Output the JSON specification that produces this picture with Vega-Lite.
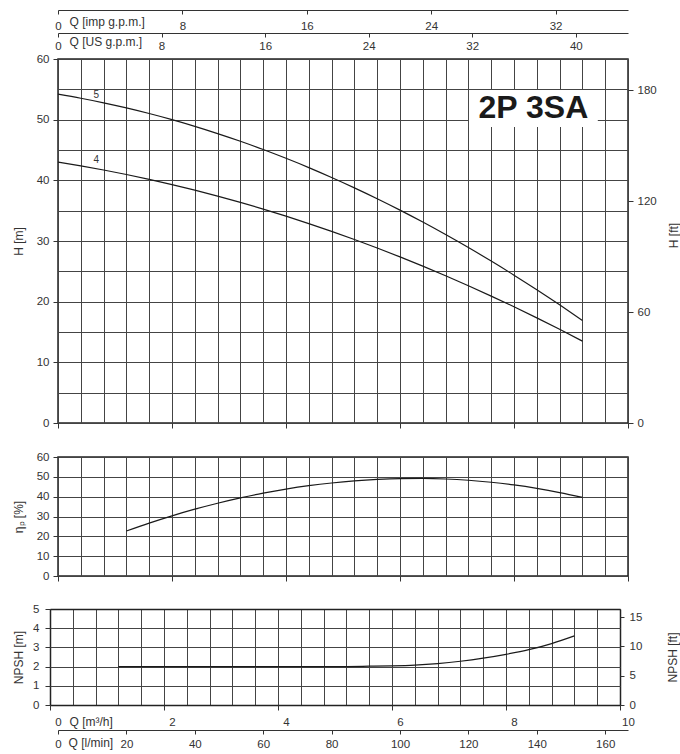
{
  "$schema": "https://vega.github.io/schema/vega-lite/v6.json",
  "background": "white",
  "padding": {"top": 8, "left": 11, "right": 0, "bottom": 0},
  "spacing": 20,
  "datasets": {
    "head": [
      {"curve": "5", "q": 0, "h": 54.20}, {"curve": "5", "q": 0.4, "h": 53.53}, {"curve": "5", "q": 0.8, "h": 52.78}, {"curve": "5", "q": 1.2, "h": 51.94},
      {"curve": "5", "q": 1.6, "h": 51.01}, {"curve": "5", "q": 2.0, "h": 50.00}, {"curve": "5", "q": 2.4, "h": 48.90}, {"curve": "5", "q": 2.8, "h": 47.71},
      {"curve": "5", "q": 3.2, "h": 46.44}, {"curve": "5", "q": 3.6, "h": 45.08}, {"curve": "5", "q": 4.0, "h": 43.63}, {"curve": "5", "q": 4.4, "h": 42.10},
      {"curve": "5", "q": 4.8, "h": 40.47}, {"curve": "5", "q": 5.2, "h": 38.76}, {"curve": "5", "q": 5.6, "h": 36.97}, {"curve": "5", "q": 6.0, "h": 35.09},
      {"curve": "5", "q": 6.4, "h": 33.12}, {"curve": "5", "q": 6.8, "h": 31.06}, {"curve": "5", "q": 7.2, "h": 28.92}, {"curve": "5", "q": 7.6, "h": 26.69},
      {"curve": "5", "q": 8.0, "h": 24.37}, {"curve": "5", "q": 8.4, "h": 21.97}, {"curve": "5", "q": 8.8, "h": 19.48}, {"curve": "5", "q": 9.2, "h": 16.91},
      {"curve": "4", "q": 0, "h": 43.00}, {"curve": "4", "q": 0.4, "h": 42.38}, {"curve": "4", "q": 0.8, "h": 41.70}, {"curve": "4", "q": 1.2, "h": 40.96},
      {"curve": "4", "q": 1.6, "h": 40.16}, {"curve": "4", "q": 2.0, "h": 39.30}, {"curve": "4", "q": 2.4, "h": 38.38}, {"curve": "4", "q": 2.8, "h": 37.40},
      {"curve": "4", "q": 3.2, "h": 36.36}, {"curve": "4", "q": 3.6, "h": 35.26}, {"curve": "4", "q": 4.0, "h": 34.09}, {"curve": "4", "q": 4.4, "h": 32.87},
      {"curve": "4", "q": 4.8, "h": 31.59}, {"curve": "4", "q": 5.2, "h": 30.25}, {"curve": "4", "q": 5.6, "h": 28.84}, {"curve": "4", "q": 6.0, "h": 27.38},
      {"curve": "4", "q": 6.4, "h": 25.86}, {"curve": "4", "q": 6.8, "h": 24.27}, {"curve": "4", "q": 7.2, "h": 22.63}, {"curve": "4", "q": 7.6, "h": 20.92},
      {"curve": "4", "q": 8.0, "h": 19.16}, {"curve": "4", "q": 8.4, "h": 17.33}, {"curve": "4", "q": 8.8, "h": 15.45}, {"curve": "4", "q": 9.2, "h": 13.50}
    ],
    "curveLabels": [
      {"label": "5", "q": 0.67, "h": 54.0},
      {"label": "4", "q": 0.67, "h": 43.4}
    ],
    "eff": [
      {"q": 1.2, "eta": 22.67}, {"q": 1.6, "eta": 26.67}, {"q": 2.0, "eta": 30.34}, {"q": 2.4, "eta": 33.69}, {"q": 2.8, "eta": 36.70},
      {"q": 3.2, "eta": 39.40}, {"q": 3.6, "eta": 41.76}, {"q": 4.0, "eta": 43.80}, {"q": 4.4, "eta": 45.52}, {"q": 4.8, "eta": 46.90},
      {"q": 5.2, "eta": 47.97}, {"q": 5.6, "eta": 48.70}, {"q": 6.0, "eta": 49.11}, {"q": 6.4, "eta": 49.19}, {"q": 6.8, "eta": 48.92},
      {"q": 7.2, "eta": 48.28}, {"q": 7.6, "eta": 47.27}, {"q": 8.0, "eta": 45.91}, {"q": 8.4, "eta": 44.17}, {"q": 8.8, "eta": 42.07},
      {"q": 9.2, "eta": 39.61}
    ],
    "npsh": [
      {"q": 1.2, "npsh": 2.0}, {"q": 2.0, "npsh": 2.0}, {"q": 3.0, "npsh": 2.0}, {"q": 4.0, "npsh": 2.0}, {"q": 5.0, "npsh": 2.0},
      {"q": 5.6, "npsh": 2.02}, {"q": 6.0, "npsh": 2.04}, {"q": 6.4, "npsh": 2.08}, {"q": 6.8, "npsh": 2.16}, {"q": 7.2, "npsh": 2.28},
      {"q": 7.6, "npsh": 2.44}, {"q": 8.0, "npsh": 2.64}, {"q": 8.4, "npsh": 2.88}, {"q": 8.8, "npsh": 3.2}, {"q": 9.2, "npsh": 3.6}
    ],
    "units": [
      {"m3h": 0, "imp": 0, "us": 0, "lmin": 0, "hm": 0, "hft": 0, "nm": 0, "nft": 0},
      {"m3h": 10, "imp": 36.66, "us": 44.03, "lmin": 166.67, "hm": 60, "hft": 196.85, "nm": 5, "nft": 16.40}
    ],
    "model": [{"name": "2P 3SA"}]
  },
  "vconcat": [
    {
      "width": 570,
      "height": 364,
      "layer": [
        {
          "data": {"name": "units"},
          "mark": {"type": "point", "opacity": 0},
          "encoding": {
            "x": {"field": "m3h", "type": "quantitative", "scale": {"domain": [0, 10], "nice": false, "zero": false},
              "axis": {"orient": "bottom", "values": [0,0.4,0.8,1.2,1.6,2,2.4,2.8,3.2,3.6,4,4.4,4.8,5.2,5.6,6,6.4,6.8,7.2,7.6,8,8.4,8.8,9.2,9.6,10], "grid": true, "ticks": false, "labels": false, "domain": false, "title": null}},
            "y": {"field": "hm", "type": "quantitative", "scale": {"domain": [0, 60], "nice": false},
              "axis": {"orient": "left", "values": [0,5,10,15,20,25,30,35,40,45,50,55,60], "grid": true, "ticks": false, "labels": false, "domain": false, "title": null}}
          }
        },
        {
          "data": {"name": "units"},
          "mark": {"type": "point", "opacity": 0},
          "encoding": {
            "x": {"field": "m3h", "type": "quantitative", "scale": {"domain": [0, 10], "nice": false, "zero": false},
              "axis": {"orient": "bottom", "values": [0,2,4,6,8,10], "grid": false, "ticks": true, "tickSize": 5, "labels": false, "domain": false, "title": null}},
            "y": {"field": "hm", "type": "quantitative", "scale": {"domain": [0, 60], "nice": false},
              "axis": {"orient": "left", "values": [0,10,20,30,40,50,60], "grid": false, "ticks": true, "tickSize": 5, "labelPadding": 4, "domain": false,
                "title": "H [m]", "titleX": -40, "titleY": 182, "titleAngle": 270, "titleAlign": "center", "titleBaseline": "middle"}}
          }
        },
        {
          "data": {"name": "units"},
          "mark": {"type": "point", "opacity": 0},
          "encoding": {
            "x": {"field": "imp", "type": "quantitative", "scale": {"domain": [0, 36.66], "nice": false, "zero": false},
              "axis": {"orient": "bottom", "offset": -413, "values": [0, 8, 16, 24, 32], "grid": false, "tickSize": 4, "labelPadding": 6, "domain": true,
                "title": "Q [imp g.p.m.]", "titleX": 11, "titleY": 15, "titleAlign": "left", "titleBaseline": "alphabetic"}},
            "y": {"field": "hm", "type": "quantitative", "scale": {"domain": [0, 60], "nice": false}, "axis": null}
          }
        },
        {
          "data": {"name": "units"},
          "mark": {"type": "point", "opacity": 0},
          "encoding": {
            "x": {"field": "us", "type": "quantitative", "scale": {"domain": [0, 44.03], "nice": false, "zero": false},
              "axis": {"orient": "bottom", "offset": -390, "values": [0, 8, 16, 24, 32, 40], "grid": false, "tickSize": 4, "labelPadding": 3, "domain": true,
                "title": "Q [US g.p.m.]", "titleX": 11, "titleY": 12, "titleAlign": "left", "titleBaseline": "alphabetic"}},
            "y": {"field": "hm", "type": "quantitative", "scale": {"domain": [0, 60], "nice": false}, "axis": null}
          }
        },
        {
          "data": {"name": "units"},
          "mark": {"type": "point", "opacity": 0},
          "encoding": {
            "x": {"field": "m3h", "type": "quantitative", "scale": {"domain": [0, 10], "nice": false, "zero": false}, "axis": null},
            "y": {"field": "hft", "type": "quantitative", "scale": {"domain": [0, 196.85], "nice": false},
              "axis": {"orient": "right", "values": [0, 60, 120, 180], "grid": false, "tickSize": 5, "labelPadding": 4, "domain": false,
                "title": "H [ft]", "titleX": 45, "titleY": 176, "titleAngle": 270, "titleAlign": "center", "titleBaseline": "middle"}}
          }
        },
        {
          "data": {"name": "head"},
          "mark": {"type": "line", "color": "#1a1a1a", "strokeWidth": 1.2, "interpolate": "monotone"},
          "encoding": {
            "x": {"field": "q", "type": "quantitative", "scale": {"domain": [0, 10], "nice": false, "zero": false}, "axis": null},
            "y": {"field": "h", "type": "quantitative", "scale": {"domain": [0, 60], "nice": false}, "axis": null},
            "detail": {"field": "curve"}
          }
        },
        {
          "data": {"name": "model"},
          "mark": {"type": "rect", "fill": "white"},
          "encoding": {
            "x": {"datum": 7.21, "type": "quantitative", "scale": {"domain": [0, 10], "nice": false, "zero": false}, "axis": null},
            "x2": {"datum": 9.47},
            "y": {"datum": 54.9, "type": "quantitative", "scale": {"domain": [0, 60], "nice": false}, "axis": null},
            "y2": {"datum": 48.8}
          }
        },
        {
          "data": {"name": "model"},
          "mark": {"type": "text", "fontSize": 32, "fontWeight": "bold", "font": "Liberation Sans", "color": "#1a1a1a", "baseline": "middle", "align": "center"},
          "encoding": {
            "x": {"datum": 8.34, "type": "quantitative", "scale": {"domain": [0, 10], "nice": false, "zero": false}, "axis": null},
            "y": {"datum": 52.0, "type": "quantitative", "scale": {"domain": [0, 60], "nice": false}, "axis": null},
            "text": {"field": "name"}
          }
        },
        {
          "data": {"name": "curveLabels"},
          "mark": {"type": "text", "fontSize": 10, "color": "#333", "baseline": "middle", "align": "center"},
          "encoding": {
            "x": {"field": "q", "type": "quantitative", "scale": {"domain": [0, 10], "nice": false, "zero": false}, "axis": null},
            "y": {"field": "h", "type": "quantitative", "scale": {"domain": [0, 60], "nice": false}, "axis": null},
            "text": {"field": "label"}
          }
        }
      ],
      "resolve": {"scale": {"x": "independent", "y": "independent"}}
    },
    {
      "width": 570,
      "height": 119,
      "layer": [
        {
          "data": {"name": "units"},
          "mark": {"type": "point", "opacity": 0},
          "encoding": {
            "x": {"field": "m3h", "type": "quantitative", "scale": {"domain": [0, 10], "nice": false, "zero": false},
              "axis": {"orient": "bottom", "values": [0,0.4,0.8,1.2,1.6,2,2.4,2.8,3.2,3.6,4,4.4,4.8,5.2,5.6,6,6.4,6.8,7.2,7.6,8,8.4,8.8,9.2,9.6,10], "grid": true, "ticks": false, "labels": false, "domain": false, "title": null}},
            "y": {"field": "hm", "type": "quantitative", "scale": {"domain": [0, 60], "nice": false},
              "axis": {"orient": "left", "values": [0,10,20,30,40,50,60], "grid": true, "ticks": true, "tickSize": 5, "labelPadding": 4, "domain": false,
                "title": "ηₚ [%]", "titleX": -40, "titleY": 59.5, "titleAngle": 270, "titleAlign": "center", "titleBaseline": "middle"}}
          }
        },
        {
          "data": {"name": "units"},
          "mark": {"type": "point", "opacity": 0},
          "encoding": {
            "x": {"field": "m3h", "type": "quantitative", "scale": {"domain": [0, 10], "nice": false, "zero": false},
              "axis": {"orient": "bottom", "values": [0,2,4,6,8,10], "grid": false, "ticks": true, "tickSize": 5, "labels": false, "domain": false, "title": null}},
            "y": {"field": "hm", "type": "quantitative", "scale": {"domain": [0, 60], "nice": false}, "axis": null}
          }
        },
        {
          "data": {"name": "eff"},
          "mark": {"type": "line", "color": "#1a1a1a", "strokeWidth": 1.2, "interpolate": "monotone"},
          "encoding": {
            "x": {"field": "q", "type": "quantitative", "scale": {"domain": [0, 10], "nice": false, "zero": false}, "axis": null},
            "y": {"field": "eta", "type": "quantitative", "scale": {"domain": [0, 60], "nice": false}, "axis": null}
          }
        }
      ],
      "resolve": {"scale": {"x": "independent", "y": "independent"}}
    },
    {
      "width": 570,
      "height": 96,
      "view": {"stroke": null},
      "layer": [
        {
          "data": {"name": "units"},
          "mark": {"type": "point", "opacity": 0},
          "encoding": {
            "x": {"field": "m3h", "type": "quantitative", "scale": {"domain": [0, 10], "range": [-8, 562], "nice": false, "zero": false},
              "axis": {"orient": "bottom", "values": [0,0.4,0.8,1.2,1.6,2,2.4,2.8,3.2,3.6,4,4.4,4.8,5.2,5.6,6,6.4,6.8,7.2,7.6,8,8.4,8.8,9.2,9.6,10], "grid": true, "ticks": false, "labels": false, "domain": false, "title": null}},
            "y": {"field": "nm", "type": "quantitative", "scale": {"domain": [0, 5], "nice": false},
              "axis": {"orient": "left", "offset": 8, "values": [0,1,2,3,4,5], "grid": true, "ticks": true, "tickSize": 5, "labelPadding": 6, "domain": false,
                "title": "NPSH [m]", "titleX": -32, "titleY": 48, "titleAngle": 270, "titleAlign": "center", "titleBaseline": "middle"}}
          }
        },
        {
          "data": {"name": "units"},
          "mark": {"type": "point", "opacity": 0},
          "encoding": {
            "x": {"field": "m3h", "type": "quantitative", "scale": {"domain": [0, 10], "range": [-8, 562], "nice": false, "zero": false},
              "axis": {"orient": "bottom", "values": [0, 10], "grid": true, "gridColor": "#222", "gridWidth": 1.5, "ticks": false, "labels": false, "domain": false, "title": null}},
            "y": {"field": "nm", "type": "quantitative", "scale": {"domain": [0, 5], "nice": false},
              "axis": {"orient": "left", "offset": 8, "values": [0, 5], "grid": true, "gridColor": "#222", "gridWidth": 1.5, "ticks": false, "labels": false, "domain": false, "title": null}}
          }
        },
        {
          "data": {"name": "units"},
          "mark": {"type": "point", "opacity": 0},
          "encoding": {
            "x": {"field": "m3h", "type": "quantitative", "scale": {"domain": [0, 10], "range": [-8, 562], "nice": false, "zero": false},
              "axis": {"orient": "bottom", "values": [0,2,4,6,8,10], "grid": false, "ticks": true, "tickSize": 5, "labels": false, "domain": false, "title": null}},
            "y": {"field": "nm", "type": "quantitative", "scale": {"domain": [0, 5], "nice": false}, "axis": null}
          }
        },
        {
          "data": {"name": "units"},
          "mark": {"type": "point", "opacity": 0},
          "encoding": {
            "x": {"field": "m3h", "type": "quantitative", "scale": {"domain": [0, 10], "nice": false, "zero": false},
              "axis": {"orient": "bottom", "offset": 0, "values": [0, 2, 4, 6, 8, 10], "grid": false, "ticks": false, "tickSize": 0, "labelPadding": 11, "domain": false,
                "title": "Q [m³/h]", "titleX": 11, "titleY": 20, "titleAlign": "left", "titleBaseline": "alphabetic"}},
            "y": {"field": "nm", "type": "quantitative", "scale": {"domain": [0, 5], "nice": false}, "axis": null}
          }
        },
        {
          "data": {"name": "units"},
          "mark": {"type": "point", "opacity": 0},
          "encoding": {
            "x": {"field": "lmin", "type": "quantitative", "scale": {"domain": [0, 166.67], "nice": false, "zero": false},
              "axis": {"orient": "bottom", "offset": 25, "values": [0, 20, 40, 60, 80, 100, 120, 140, 160], "grid": false, "tickSize": 4, "labelPadding": 4, "domain": true,
                "title": "Q [l/min]", "titleX": 10, "titleY": 16, "titleAlign": "left", "titleBaseline": "alphabetic"}},
            "y": {"field": "nm", "type": "quantitative", "scale": {"domain": [0, 5], "nice": false}, "axis": null}
          }
        },
        {
          "data": {"name": "units"},
          "mark": {"type": "point", "opacity": 0},
          "encoding": {
            "x": {"field": "m3h", "type": "quantitative", "scale": {"domain": [0, 10], "nice": false, "zero": false}, "axis": null},
            "y": {"field": "nft", "type": "quantitative", "scale": {"domain": [0, 16.40], "nice": false},
              "axis": {"orient": "right", "offset": -8, "values": [0, 5, 10, 15], "grid": false, "tickSize": 4, "labelPadding": 5, "domain": false,
                "title": "NPSH [ft]", "titleX": 52, "titleY": 48, "titleAngle": 270, "titleAlign": "center", "titleBaseline": "middle"}}
          }
        },
        {
          "data": {"name": "npsh"},
          "mark": {"type": "line", "color": "#1a1a1a", "strokeWidth": 1.2, "interpolate": "monotone"},
          "encoding": {
            "x": {"field": "q", "type": "quantitative", "scale": {"domain": [0, 10], "range": [-8, 562], "nice": false, "zero": false}, "axis": null},
            "y": {"field": "npsh", "type": "quantitative", "scale": {"domain": [0, 5], "nice": false}, "axis": null}
          }
        }
      ],
      "resolve": {"scale": {"x": "independent", "y": "independent"}}
    }
  ],
  "config": {
    "font": "Liberation Sans",
    "view": {"stroke": "#222", "strokeWidth": 1.5},
    "axis": {
      "labelFont": "Liberation Sans",
      "titleFont": "Liberation Sans",
      "labelFontSize": 11.5,
      "labelColor": "#333",
      "titleFontSize": 12,
      "titleFontWeight": "normal",
      "titleColor": "#333",
      "labelFlush": false,
      "labelOverlap": false,
      "gridColor": "#444",
      "gridOpacity": 1,
      "gridWidth": 1,
      "tickColor": "#333",
      "tickWidth": 1,
      "domainColor": "#333",
      "domainWidth": 1
    }
  }
}
